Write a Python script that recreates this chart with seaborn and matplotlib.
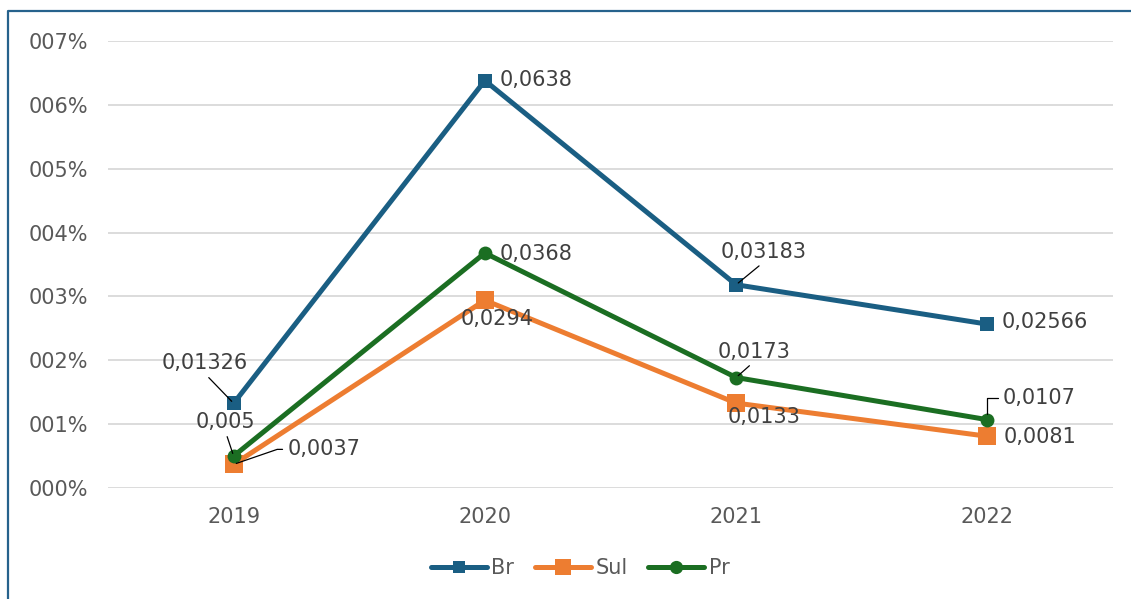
import pandas as pd
import numpy as np
import seaborn as sns
import matplotlib.pyplot as plt
from matplotlib.ticker import FuncFormatter
from matplotlib.lines import Line2D

years = ["2019", "2020", "2021", "2022"]
br = [0.01326, 0.0638, 0.03183, 0.02566]
sul = [0.0037, 0.0294, 0.0133, 0.0081]
pr = [0.005, 0.0368, 0.0173, 0.0107]
br_labels = ["0,01326", "0,0638", "0,03183", "0,02566"]
sul_labels = ["0,0037", "0,0294", "0,0133", "0,0081"]
pr_labels = ["0,005", "0,0368", "0,0173", "0,0107"]

series = {"Br": br, "Sul": sul, "Pr": pr}
labels = {"Br": br_labels, "Sul": sul_labels, "Pr": pr_labels}
colors = {"Br": "#1A5E83", "Sul": "#ED7D31", "Pr": "#1B6E22"}
markers = {"Br": "s", "Sul": "s", "Pr": "o"}
msizes = {"Br": 9.5, "Sul": 12.5, "Pr": 10}

# label offsets in pixels (dx, dy screen-down) and leader style
offsets = {
    "Br": [(-29, -40, "line"), (51, -1, None), (28, -33, "line"), (57, -2, None)],
    "Sul": [(90, -15, "elbow"), (12, 19, None), (28, 14, None), (53, 1, None)],
    "Pr": [(-8, -34, "line"), (51, 1, None), (18, -26, "line"), (52, -22, "elbowv")],
}

rows = []
for name, vals in series.items():
    for y, v in zip(years, vals):
        rows.append({"year": y, "value": v, "region": name})
df = pd.DataFrame(rows)

sns.set_style("white")
plt.rcParams["font.family"] = ["DejaVu Sans"]

fig = plt.figure(figsize=(11.31, 5.99), dpi=100)
ax = fig.add_axes([108 / 1131, 1 - 488 / 599, (1113 - 108) / 1131, (488 - 41) / 599])

for name in series:
    sub = df[df["region"] == name]
    sns.lineplot(data=sub, x="year", y="value", ax=ax, color=colors[name], lw=3.6,
                 marker=markers[name], markersize=msizes[name], markeredgewidth=0,
                 sort=False, errorbar=None, label=name, legend=False)

for name in series:
    for i, (y, v) in enumerate(zip(years, series[name])):
        dx, dy, leader = offsets[name][i]
        ap = None
        if leader == "line":
            ap = dict(arrowstyle="-", color="black", lw=0.9, shrinkA=1, shrinkB=2, relpos=(0.5, 0))
        elif leader == "elbow":
            ap = dict(arrowstyle="-", color="black", lw=0.9, shrinkA=1, shrinkB=2, relpos=(0, 0.5),
                      connectionstyle="angle,angleA=0,angleB=19,rad=0")
        elif leader == "elbowv":
            ap = dict(arrowstyle="-", color="black", lw=0.9, shrinkA=1, shrinkB=4, relpos=(0, 0.5),
                      connectionstyle="angle,angleA=0,angleB=90,rad=0")
        ax.annotate(labels[name][i], xy=(i, v), xytext=(dx, -dy), textcoords="offset pixels",
                    ha="center", va="center", fontsize=15, color="#404040", arrowprops=ap,
                    zorder=5)

ax.set_xlim(-0.5, 3.5)
ax.set_ylim(0, 0.07)
ax.set_yticks(np.arange(0, 0.071, 0.01))
ax.yaxis.set_major_formatter(FuncFormatter(lambda v, p: f"{int(round(v * 100)):03d}%"))
ax.grid(axis="y", color="#D9D9D9", lw=1.3)
ax.grid(axis="x", visible=False)
ax.set_axisbelow(True)
for s in ax.spines.values():
    s.set_visible(False)
ax.tick_params(axis="both", length=0, labelsize=15, labelcolor="#595959")
ax.tick_params(axis="y", pad=14)
ax.tick_params(axis="x", pad=14)
ax.set_xlabel("")
ax.set_ylabel("")

handles = [Line2D([], [], color=colors[n], lw=3.6, marker=markers[n], markersize=msizes[n] * 0.95,
                  markeredgewidth=0) for n in series]
fig.legend(handles, list(series.keys()), loc="center", bbox_to_anchor=(580 / 1131, 1 - 568 / 599),
           ncol=3, frameon=False, fontsize=15, labelcolor="#595959", handlelength=2.7,
           handletextpad=0.2, columnspacing=1.0)

# chart border (right and bottom edges are cut off)
fig.add_artist(Line2D([8 / 1131, 8 / 1131, 1.0], [0.0, 1 - 11 / 599, 1 - 11 / 599],
                      transform=fig.transFigure, color="#26628C", lw=1.6))

fig.savefig("out.png", dpi=100)
